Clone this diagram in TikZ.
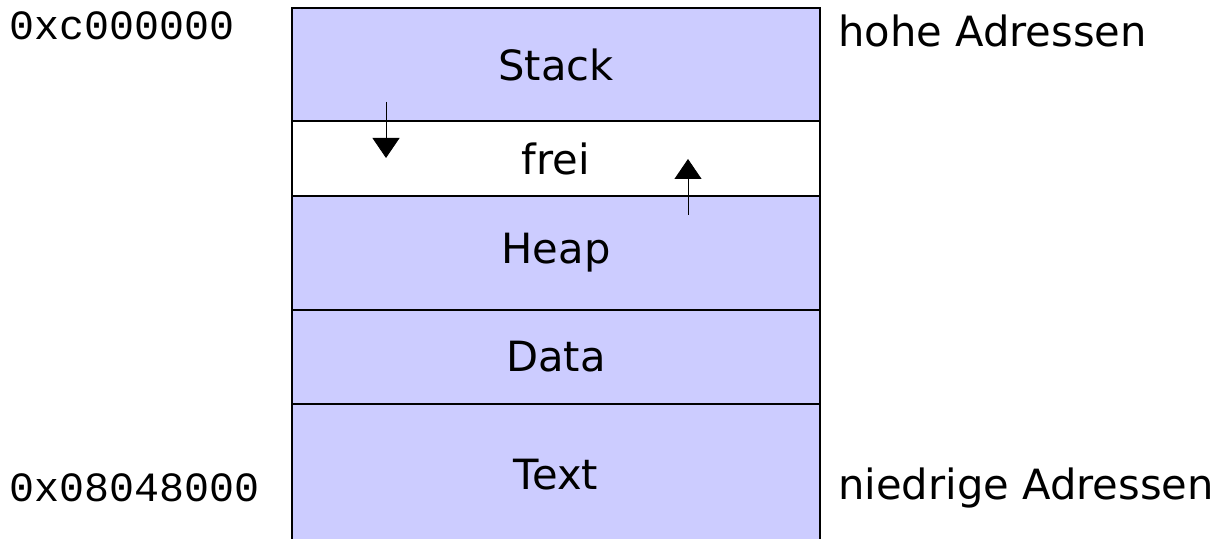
\documentclass[tikz,border=0pt]{standalone}
\usepackage{fontspec}
\setmainfont{DejaVu Sans}
\setmonofont{Liberation Mono}
\usetikzlibrary{positioning,arrows.meta}

\definecolor{segfill}{HTML}{CCCCFF}

\tikzset{
  segment/.style={draw=black, line width=0.8pt, fill=segfill, outer sep=0pt,
    minimum width=10.56cm, inner sep=0pt, font=\fontsize{23.7}{28}\selectfont},
  addr/.style={font=\ttfamily\fontsize{23.7}{28}\selectfont, anchor=base west, inner sep=0pt},
  side/.style={font=\fontsize{23.7}{28}\selectfont, anchor=base west, inner sep=0pt},
  growarrow/.style={-{Triangle[width=0.54cm,length=0.4cm]}, line width=0.5pt}
}

\begin{document}
\begin{tikzpicture}

    % Page frame
    \useasboundingbox (0,0) rectangle (24.54,-10.78);

    % The memory segments, stacked from high to low addresses
    \node[segment, anchor=north, minimum height=2.26cm] (stack) at (11.12,-0.16) {Stack};
    \node[segment, fill=white, minimum height=1.5cm, below=0pt of stack] (frei) {frei};
    \node[segment, minimum height=2.28cm, below=0pt of frei] (heap) {Heap};
    \node[segment, minimum height=1.88cm, below=0pt of heap] (data) {Data};
    \node[segment, minimum height=2.82cm, below=0pt of data] (text) {Text};

    % Growth directions of stack and heap
    \coordinate (stack grow) at (7.72,-2.04);
    \coordinate (stack end) at (7.72,-3.16);
    \coordinate (heap grow) at (13.76,-4.3);
    \coordinate (heap end) at (13.76,-3.18);
    \draw[growarrow] (stack grow) -- (stack end);
    \draw[growarrow] (heap grow) -- (heap end);

    % Addresses on the left
    \node[addr] (high addr) at (0.18,-0.8) {0xc000000};
    \node[addr] (low addr) at (0.18,-10.04) {0x08048000};

    % Notes on the right
    \node[side] (high note) at (16.76,-0.94) {hohe Adressen};
    \node[side] (low note) at (16.76,-10.0) {niedrige Adressen};

\end{tikzpicture}
\end{document}
